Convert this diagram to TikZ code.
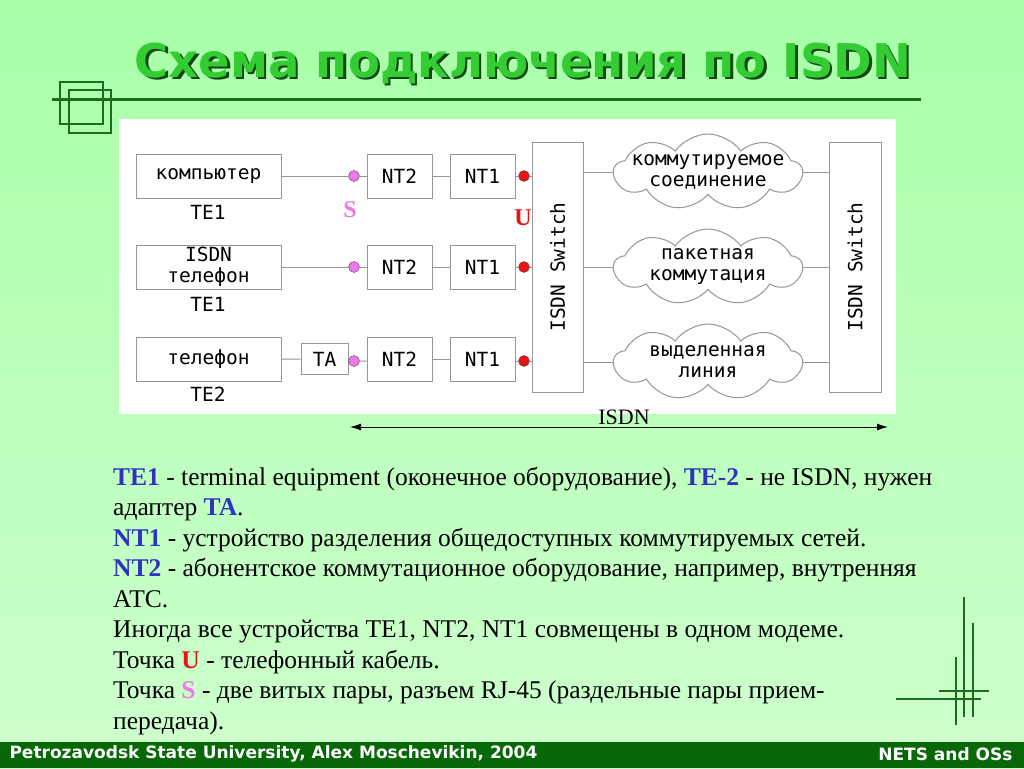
\documentclass[tikz,border=0pt]{standalone}
\usepackage{fontspec}
\setmainfont{Liberation Serif}
\newfontfamily\monofont{DejaVu Sans Mono}
\newfontfamily\slidefont{DejaVu Sans}
\usetikzlibrary{shapes.symbols,positioning,arrows.meta}

\definecolor{bgtop}{RGB}{168,255,168}
\definecolor{bgbot}{RGB}{206,255,206}
\definecolor{footgreen}{RGB}{8,104,8}
\definecolor{decogreen}{RGB}{26,110,26}
\definecolor{titlegreen}{RGB}{51,204,51}
\definecolor{titleshade}{RGB}{20,70,20}
\definecolor{termblue}{RGB}{46,52,190}
\definecolor{spink}{RGB}{238,119,238}
\definecolor{ured}{RGB}{232,20,20}
\definecolor{boxgray}{RGB}{150,150,150}

\tikzset{
  unit/.style={draw=boxgray, fill=white, line width=1pt, inner sep=0pt,
    align=center, font=\monofont\fontsize{19.5}{21}\selectfont},
  netcloud/.style={shape=cloud, draw=boxgray, fill=white, line width=1pt,
    cloud puffs=9, cloud puff arc=110, aspect=2.5, inner sep=0pt,
    minimum width=188pt, minimum height=76pt},
  cloudtext/.style={align=center, inner sep=0pt, font=\monofont\fontsize{19.5}{21}\selectfont},
  link/.style={draw=boxgray, line width=1pt},
  sdot/.style={circle, draw=black!70, fill=spink, inner sep=0pt, minimum size=11pt},
  udot/.style={circle, draw=black!70, fill=ured, inner sep=0pt, minimum size=11pt},
  telabel/.style={font=\monofont\fontsize{19.5}{21}\selectfont},
  point/.style={font=\bfseries\fontsize{24}{26}\selectfont},
  deco/.style={draw=decogreen, line width=1.2pt},
  txt/.style={anchor=base west, inner sep=0pt, font=\fontsize{25.5}{28}\selectfont}
}

\begin{document}
\begin{tikzpicture}[x=1pt, y=-1pt]
  \useasboundingbox (0,0) rectangle (1024,768);
  % background and frame
  \shade[top color=bgtop, bottom color=bgbot] (0,0) rectangle (1024,768);
  \fill[footgreen] (0,742) rectangle (1024,768);
  \draw[deco] (60,82) rectangle (103,124);
  \draw[deco] (69,90) rectangle (111,133);
  \draw[decogreen, line width=3pt] (52,99) -- (921,99);
  \draw[deco] (964,597) -- (964,717);
  \draw[deco] (973,623) -- (973,717);
  \draw[deco] (956,657) -- (956,725);
  \draw[deco] (939,691) -- (989,691);
  \draw[deco] (896,699) -- (981,699);

  % title
  \node[font=\slidefont\bfseries\fontsize{46.5}{50}\selectfont, text=titleshade]
    (titleshadow) at (525.5,65.5) {Схема подключения по ISDN};
  \node[font=\slidefont\bfseries\fontsize{46.5}{50}\selectfont, text=titlegreen]
    (title) at (523,63) {Схема подключения по ISDN};

  % diagram
  \fill[white] (119,119) rectangle (896,414);

  \node[unit, minimum width=145pt, minimum height=44pt] (comp) at (208.5,176) {компьютер};
  \node[unit, minimum width=145pt, minimum height=44pt] (isdntel) at (208.5,267) {ISDN\\телефон};
  \node[unit, minimum width=145pt, minimum height=44pt] (tel) at (208.5,359) {телефон};
  \node[telabel] (te1a) at (208,212) {TE1};
  \node[telabel] (te1b) at (208,304) {TE1};
  \node[telabel] (te2) at (208,394) {TE2};
  \node[unit, minimum width=47pt, minimum height=31pt] (ta) at (324.5,359) {TA};

  \node[unit, minimum width=65pt, minimum height=44pt] (nt2a) at (399.5,176) {NT2};
  \node[unit, minimum width=65pt, minimum height=44pt] (nt2b) at (399.5,267) {NT2};
  \node[unit, minimum width=65pt, minimum height=44pt] (nt2c) at (399.5,359) {NT2};
  \node[unit, minimum width=65pt, minimum height=44pt] (nt1a) at (482.5,176) {NT1};
  \node[unit, minimum width=65pt, minimum height=44pt] (nt1b) at (482.5,267) {NT1};
  \node[unit, minimum width=65pt, minimum height=44pt] (nt1c) at (482.5,359) {NT1};

  \node[point, text=spink] (slabel) at (350,210) {S};
  \node[point, text=ured] (ulabel) at (523,218) {U};

  \node[unit, minimum width=51pt, minimum height=250pt] (sw1) at (557.5,267) {};
  \node[unit, minimum width=52pt, minimum height=250pt] (sw2) at (855,267) {};
  \node[telabel, rotate=90] at (sw1) {ISDN Switch};
  \node[telabel, rotate=90] at (sw2) {ISDN Switch};

  \node[netcloud] (dial) at (708,172) {};
  \node[netcloud] (packet) at (708,267) {};
  \node[netcloud] (leased) at (708,362) {};
  \node[cloudtext] at (dial) {коммутируемое\\соединение};
  \node[cloudtext] at (packet) {пакетная\\коммутация};
  \node[cloudtext] at (leased) {выделенная\\линия};

  \node[sdot] (s1) at (354,176) {};
  \node[sdot] (s2) at (354,267) {};
  \node[sdot] (s3) at (354,361) {};
  \node[udot] (u1) at (524,176) {};
  \node[udot] (u2) at (524,267) {};
  \node[udot] (u3) at (524,361) {};

  \draw[link] (comp) -- (s1) -- (nt2a) -- (nt1a) -- (u1) -- (u1 -| sw1.west);
  \draw[link] (isdntel) -- (s2) -- (nt2b) -- (nt1b) -- (u2) -- (u2 -| sw1.west);
  \draw[link] (tel) -- (ta) -- (s3) -- (s3 -| nt2c.west);
  \draw[link] (nt2c) -- (nt1c);
  \draw[link] (nt1c.east |- u3) -- (u3) -- (u3 -| sw1.west);
  \foreach \c in {dial, packet, leased}
    \draw[link] (\c.west -| sw1.east) -- (\c.west) (\c.east) -- (\c.east -| sw2.west);

  % ISDN span
  \coordinate (spanl) at (350,427);
  \coordinate (spanr) at (888,427);
  \draw[{Latex[length=11pt,width=7pt]}-{Latex[length=11pt,width=7pt]}, line width=1pt] (spanl) -- (spanr);
  \node[anchor=base, font=\fontsize{22}{24}\selectfont, inner sep=0pt] (isdn) at (624,424) {ISDN};

  % notes
  \node[txt] (l1) at (113,485) {\textcolor{termblue}{\bfseries TE1} - terminal equipment (оконечное оборудование), \textcolor{termblue}{\bfseries TE-2} - не ISDN, нужен};
  \node[txt] (l2) at (113,515.5) {адаптер \textcolor{termblue}{\bfseries TA}.};
  \node[txt] (l3) at (113,546) {\textcolor{termblue}{\bfseries NT1} - устройство разделения общедоступных коммутируемых сетей.};
  \node[txt] (l4) at (113,576.5) {\textcolor{termblue}{\bfseries NT2} - абонентское коммутационное оборудование, например, внутренняя};
  \node[txt] (l5) at (113,607) {АТС.};
  \node[txt] (l6) at (113,637.5) {Иногда все устройства TE1, NT2, NT1 совмещены в одном модеме.};
  \node[txt] (l7) at (113,668) {Точка \textcolor{ured}{\bfseries U} - телефонный кабель.};
  \node[txt] (l8) at (113,698.5) {Точка \textcolor{spink}{\bfseries S} - две витых пары, разъем RJ-45 (раздельные пары прием-};
  \node[txt] (l9) at (113,729) {передача).};

  % footer
  \node[anchor=west, text=white, font=\slidefont\bfseries\fontsize{17}{19}\selectfont]
    (foot) at (6,754) {Petrozavodsk State University, Alex Moschevikin, 2004};
  \node[anchor=east, text=white, font=\slidefont\bfseries\fontsize{17}{19}\selectfont]
    (course) at (1016,754) {NETS and OSs};
\end{tikzpicture}
\end{document}
